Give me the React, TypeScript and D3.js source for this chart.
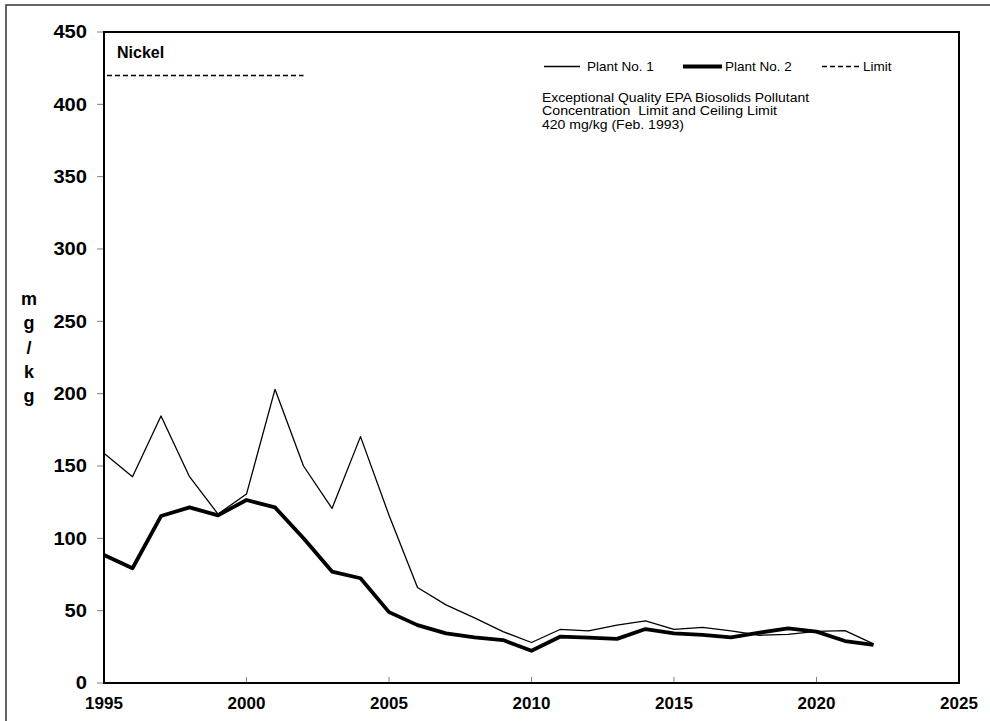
import React from 'react';
import * as d3 from 'd3';

// values
const years = [1995, 1996, 1997, 1998, 1999, 2000, 2001, 2002, 2003, 2004, 2005, 2006, 2007, 2008,
   2009, 2010, 2011, 2012, 2013, 2014, 2015, 2016, 2017, 2018, 2019, 2020, 2021, 2022];
const plant1 = [158.8, 142.6, 184.6, 142.6, 116.8, 130.6, 203, 150, 120.7, 170.3, 116, 66, 54, 45,
   35.5, 28, 37, 36, 40, 43, 37, 38.5, 36, 33, 33.6, 35.7, 36.2, 27];
const plant2 = [88.5, 79.3, 115.4, 121.4, 115.9, 126.5, 121.4, 100, 77, 72.4, 49, 40, 34.3, 31.6,
   29.7, 22.3, 32, 31.3, 30.5, 37.3, 34.3, 33.2, 31.6, 34.8, 37.8, 35.5, 29, 26.3];
const limitYears = [1995, 2002];
const limitValue = 420;
const xTicks = [1995, 2000, 2005, 2010, 2015, 2020, 2025];
const yTicks = [0, 50, 100, 150, 200, 250, 300, 350, 400, 450];
const yTitle = ['m', 'g', '/', 'k', 'g'];
const noteLines = [
   'Exceptional Quality EPA Biosolids Pollutant',
   'Concentration  Limit and Ceiling Limit',
   '420 mg/kg (Feb. 1993)',
];
const noteWidths = [267, 235, 142];

const W = 990;
const H = 721;
const left = 104;
const right = 959;
const top = 32;
const bottom = 683;
const font = 'Arial, "Liberation Sans", sans-serif';

const App: React.FC = () => {
   const x = d3.scaleLinear().domain([1995, 2025]).range([left, right]);
   const y = d3.scaleLinear().domain([0, 450]).range([bottom, top]);

   const line = d3
      .line<number>()
      .x((_, i) => x(years[i]))
      .y((d) => y(d));

   return (
      <svg
         width={W}
         height={H}
         style={{ position: 'absolute', left: 0, top: 0, background: '#fff' }}
         fontFamily={font}
      >
         {/* outer frame */}
         <rect x={6} y={5} width={W + 10} height={H + 10} fill="none" stroke="#333" strokeWidth={1.5} />

         {/* y ticks + labels */}
         {yTicks.map((t) => (
            <g key={t}>
               <line x1={97} x2={left} y1={y(t)} y2={y(t)} stroke="#808080" strokeWidth={1} />
               <text
                  x={87}
                  y={y(t)}
                  dy="0.36em"
                  textAnchor="end"
                  fontSize={18}
                  fontWeight="bold"
                  textLength={String(t).length * 11.2}
                  lengthAdjust="spacingAndGlyphs"
               >
                  {t}
               </text>
            </g>
         ))}

         {/* x ticks + labels */}
         {xTicks.map((t) => (
            <g key={t}>
               <line x1={x(t)} x2={x(t)} y1={bottom - 6} y2={bottom} stroke="#808080" strokeWidth={1} />
               <text x={x(t)} y={709} textAnchor="middle" fontSize={17} fontWeight="bold">
                  {t}
               </text>
            </g>
         ))}

         {/* plot frame */}
         <rect x={left} y={top} width={right - left} height={bottom - top} fill="none" stroke="#000" strokeWidth={2} />

         {/* y title, stacked letters */}
         {yTitle.map((c, i) => (
            <text key={i} x={29} y={305 + i * 24.3} textAnchor="middle" fontSize={18} fontWeight="bold">
               {c}
            </text>
         ))}

         <text x={117} y={58} fontSize={16} fontWeight="bold">Nickel</text>

         {/* limit line */}
         <line
            x1={x(limitYears[0]) + 3}
            x2={x(limitYears[1])}
            y1={y(limitValue)}
            y2={y(limitValue)}
            stroke="#000"
            strokeWidth={1.5}
            strokeDasharray="5,3"
         />

         {/* series */}
         <path d={line(plant1) ?? ''} fill="none" stroke="#000" strokeWidth={1.3} strokeLinejoin="round" />
         <path d={line(plant2) ?? ''} fill="none" stroke="#000" strokeWidth={3.8} strokeLinejoin="round" />

         {/* legend */}
         <g fontSize={13.5}>
            <line x1={544} x2={580} y1={66.5} y2={66.5} stroke="#000" strokeWidth={1.3} />
            <text x={587} y={71}>Plant No. 1</text>
            <line x1={683} x2={722} y1={66.5} y2={66.5} stroke="#000" strokeWidth={3.8} />
            <text x={725} y={71}>Plant No. 2</text>
            <line x1={822} x2={862} y1={66.5} y2={66.5} stroke="#000" strokeWidth={1.5} strokeDasharray="5,3" />
            <text x={863} y={71}>Limit</text>
         </g>

         {noteLines.map((s, i) => (
            <text
               key={i}
               x={542}
               y={102 + i * 13.3}
               fontSize={12.5}
               textLength={noteWidths[i]}
               lengthAdjust="spacingAndGlyphs"
               style={{ whiteSpace: 'pre' }}
            >
               {s}
            </text>
         ))}
      </svg>
   );
};

export default App;
